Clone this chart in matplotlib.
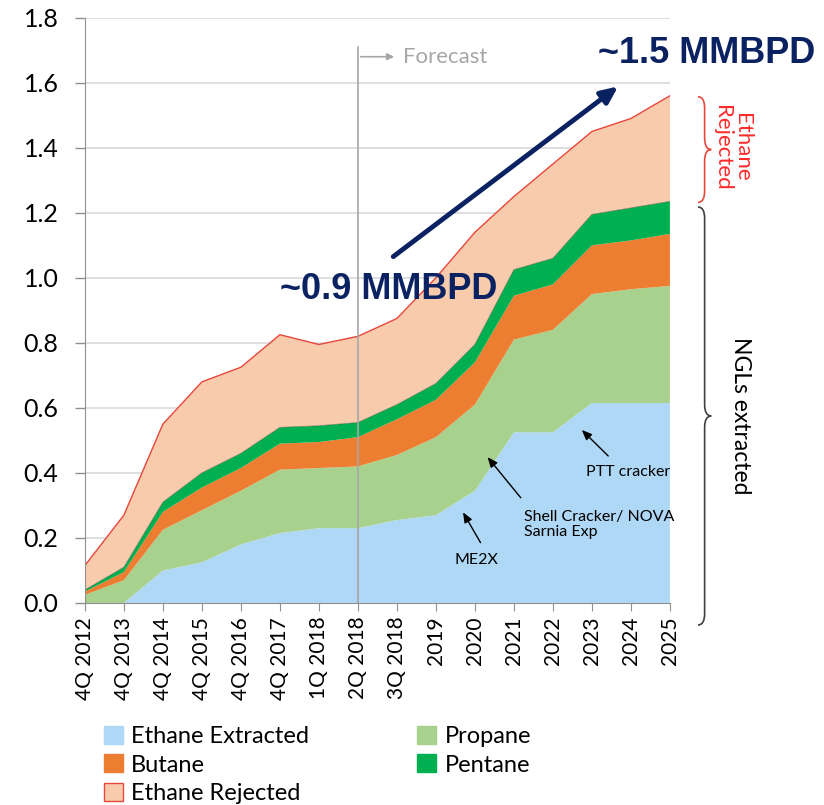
import matplotlib
matplotlib.use('Agg')
import matplotlib.pyplot as plt
import numpy as np
from matplotlib.path import Path
from matplotlib.patches import PathPatch, Patch

# 数据 (各层厚度, MMBPD)
periods = ['4Q 2012', '4Q 2013', '4Q 2014', '4Q 2015', '4Q 2016', '4Q 2017',
           '1Q 2018', '2Q 2018', '3Q 2018', '2019', '2020', '2021', '2022',
           '2023', '2024', '2025']
ethane_extracted = [0.0, 0.0, 0.10, 0.125, 0.18, 0.215, 0.23, 0.23, 0.255, 0.27,
                    0.345, 0.525, 0.525, 0.615, 0.615, 0.615]
propane = [0.025, 0.07, 0.125, 0.16, 0.165, 0.195, 0.185, 0.19, 0.20, 0.24,
           0.265, 0.285, 0.315, 0.335, 0.35, 0.36]
butane = [0.01, 0.025, 0.055, 0.07, 0.07, 0.08, 0.08, 0.09, 0.11, 0.115,
          0.13, 0.135, 0.14, 0.15, 0.15, 0.16]
pentane = [0.005, 0.015, 0.03, 0.045, 0.045, 0.05, 0.05, 0.045, 0.045, 0.05,
           0.055, 0.08, 0.08, 0.095, 0.10, 0.10]
ethane_rejected = [0.075, 0.16, 0.24, 0.28, 0.265, 0.285, 0.25, 0.265, 0.265, 0.325,
                   0.345, 0.225, 0.29, 0.255, 0.275, 0.325]

names = ['Ethane Extracted', 'Propane', 'Butane', 'Pentane', 'Ethane Rejected']
colors = ['#AED8F5', '#A9D18E', '#ED7D31', '#00B050', '#F8CBAD']

plt.rcParams['font.family'] = ['Lato', 'DejaVu Sans']

fig = plt.figure(figsize=(8.24, 8.05), dpi=100)
ax = fig.add_axes([0.103, 0.251, 0.710, 0.727])

x = np.arange(len(periods))
layers = [ethane_extracted, propane, butane, pentane, ethane_rejected]
ax.stackplot(x, *layers, colors=colors, linewidth=0)
tops = np.cumsum(np.array(layers), axis=0)
ax.plot(x, tops[-1], color='#E8473C', lw=1.0)
ax.plot(x, tops[3], color='#3a5a3a', lw=0.6, alpha=0.6)

ax.set_xlim(0, len(periods) - 1)
ax.set_ylim(0, 1.8)
ax.set_yticks(np.arange(0, 1.81, 0.2))
ax.set_yticklabels(['%.1f' % v for v in np.arange(0, 1.81, 0.2)], fontsize=18)
ax.set_xticks(x)
ax.set_xticklabels(periods, rotation=90, fontsize=15)
ax.grid(axis='y', color='#D9D9D9', lw=1.2)
ax.set_axisbelow(True)
for s in ['top', 'right']:
    ax.spines[s].set_visible(False)
ax.spines['left'].set_color('#909090')
ax.spines['bottom'].set_color('#909090')
ax.tick_params(axis='y', length=7, color='#909090', width=1.0, pad=12)
ax.tick_params(axis='x', length=6, color='#909090', pad=4)
ax.set_zorder(1)

# Forecast 分隔线
ax.plot([7, 7], [0, 1.71], color='#A6A6A6', lw=1.2)
ax.annotate('', xy=(8.0, 1.68), xytext=(7, 1.68),
            arrowprops=dict(arrowstyle='-|>', color='#A6A6A6', lw=1.2))
ax.text(8.15, 1.68, 'Forecast', color='#A6A6A6', fontsize=16, va='center')

# 大箭头和文字
navy = '#0B2262'
ax.annotate('', xy=(13.73, 1.594), xytext=(7.85, 1.06),
            arrowprops=dict(arrowstyle='-|>,head_length=1.0,head_width=0.45',
                            color=navy, lw=3.5))
ax.text(7.8, 0.963, '~0.9 MMBPD', color=navy, fontsize=26, fontweight='bold',
        family='Liberation Sans', ha='center', va='center', zorder=5)
ax.text(15.93, 1.69, '~1.5 MMBPD', color=navy, fontsize=26, fontweight='bold',
        family='Liberation Sans', ha='center', va='center', clip_on=False)

# 小注释
arrow_k = dict(arrowstyle='-|>,head_length=0.6,head_width=0.25', color='black', lw=1.0)
ax.text(13.94, 0.403, 'PTT cracker', ha='center', va='center', fontsize=11.5)
ax.annotate('', xy=(12.69, 0.538), xytext=(13.47, 0.446), arrowprops=arrow_k)
ax.text(11.25, 0.24, 'Shell Cracker/ NOVA\nSarnia Exp', fontsize=11.5,
        ha='left', va='center', linespacing=1.1)
ax.annotate('', xy=(10.28, 0.455), xytext=(11.22, 0.317), arrowprops=arrow_k)
ax.text(10.03, 0.132, 'ME2X', fontsize=11.5, ha='center', va='center')
ax.annotate('', xy=(9.66, 0.286), xytext=(10.18, 0.178), arrowprops=arrow_k)


def brace(ax, x0, w, ytop, ybot, r, color):
    ym = (ytop + ybot) / 2
    xm = x0 + w / 2
    verts = [(x0, ytop), (xm, ytop), (xm, ytop - r),
             (xm, ym + r), (xm, ym), (x0 + w, ym),
             (xm, ym), (xm, ym - r),
             (xm, ybot + r), (xm, ybot), (x0, ybot)]
    codes = [Path.MOVETO, Path.CURVE3, Path.CURVE3,
             Path.LINETO, Path.CURVE3, Path.CURVE3,
             Path.CURVE3, Path.CURVE3,
             Path.LINETO, Path.CURVE3, Path.CURVE3]
    p = PathPatch(Path(verts, codes), fc='none', ec=color, lw=1.2, clip_on=False)
    ax.add_patch(p)


brace(ax, 15.72, 0.34, 1.557, 1.232, 0.035, '#E8473C')
brace(ax, 15.72, 0.34, 1.218, -0.068, 0.035, '#404040')
ax.text(16.6, 1.40, 'Ethane\nRejected', color='#FF2A2A', fontsize=16,
        rotation=-90, ha='center', va='center', clip_on=False, linespacing=1.0)
ax.text(16.8, 0.575, 'NGLs extracted', color='black', fontsize=16.5,
        rotation=-90, ha='center', va='center', clip_on=False)

# 图例
handles = [Patch(fc=colors[i], ec=colors[i]) for i in range(4)]
handles.append(Patch(fc=colors[4], ec='#E8473C'))
order = [0, 2, 4, 1, 3]
fig.legend([handles[i] for i in order], [names[i] for i in order],
           ncol=2, loc='lower left', bbox_to_anchor=(0.10, -0.025), frameon=False,
           fontsize=17, handlelength=0.8, handleheight=0.8, handletextpad=0.35,
           columnspacing=4.6, labelspacing=0.3)

plt.savefig('out.png')
